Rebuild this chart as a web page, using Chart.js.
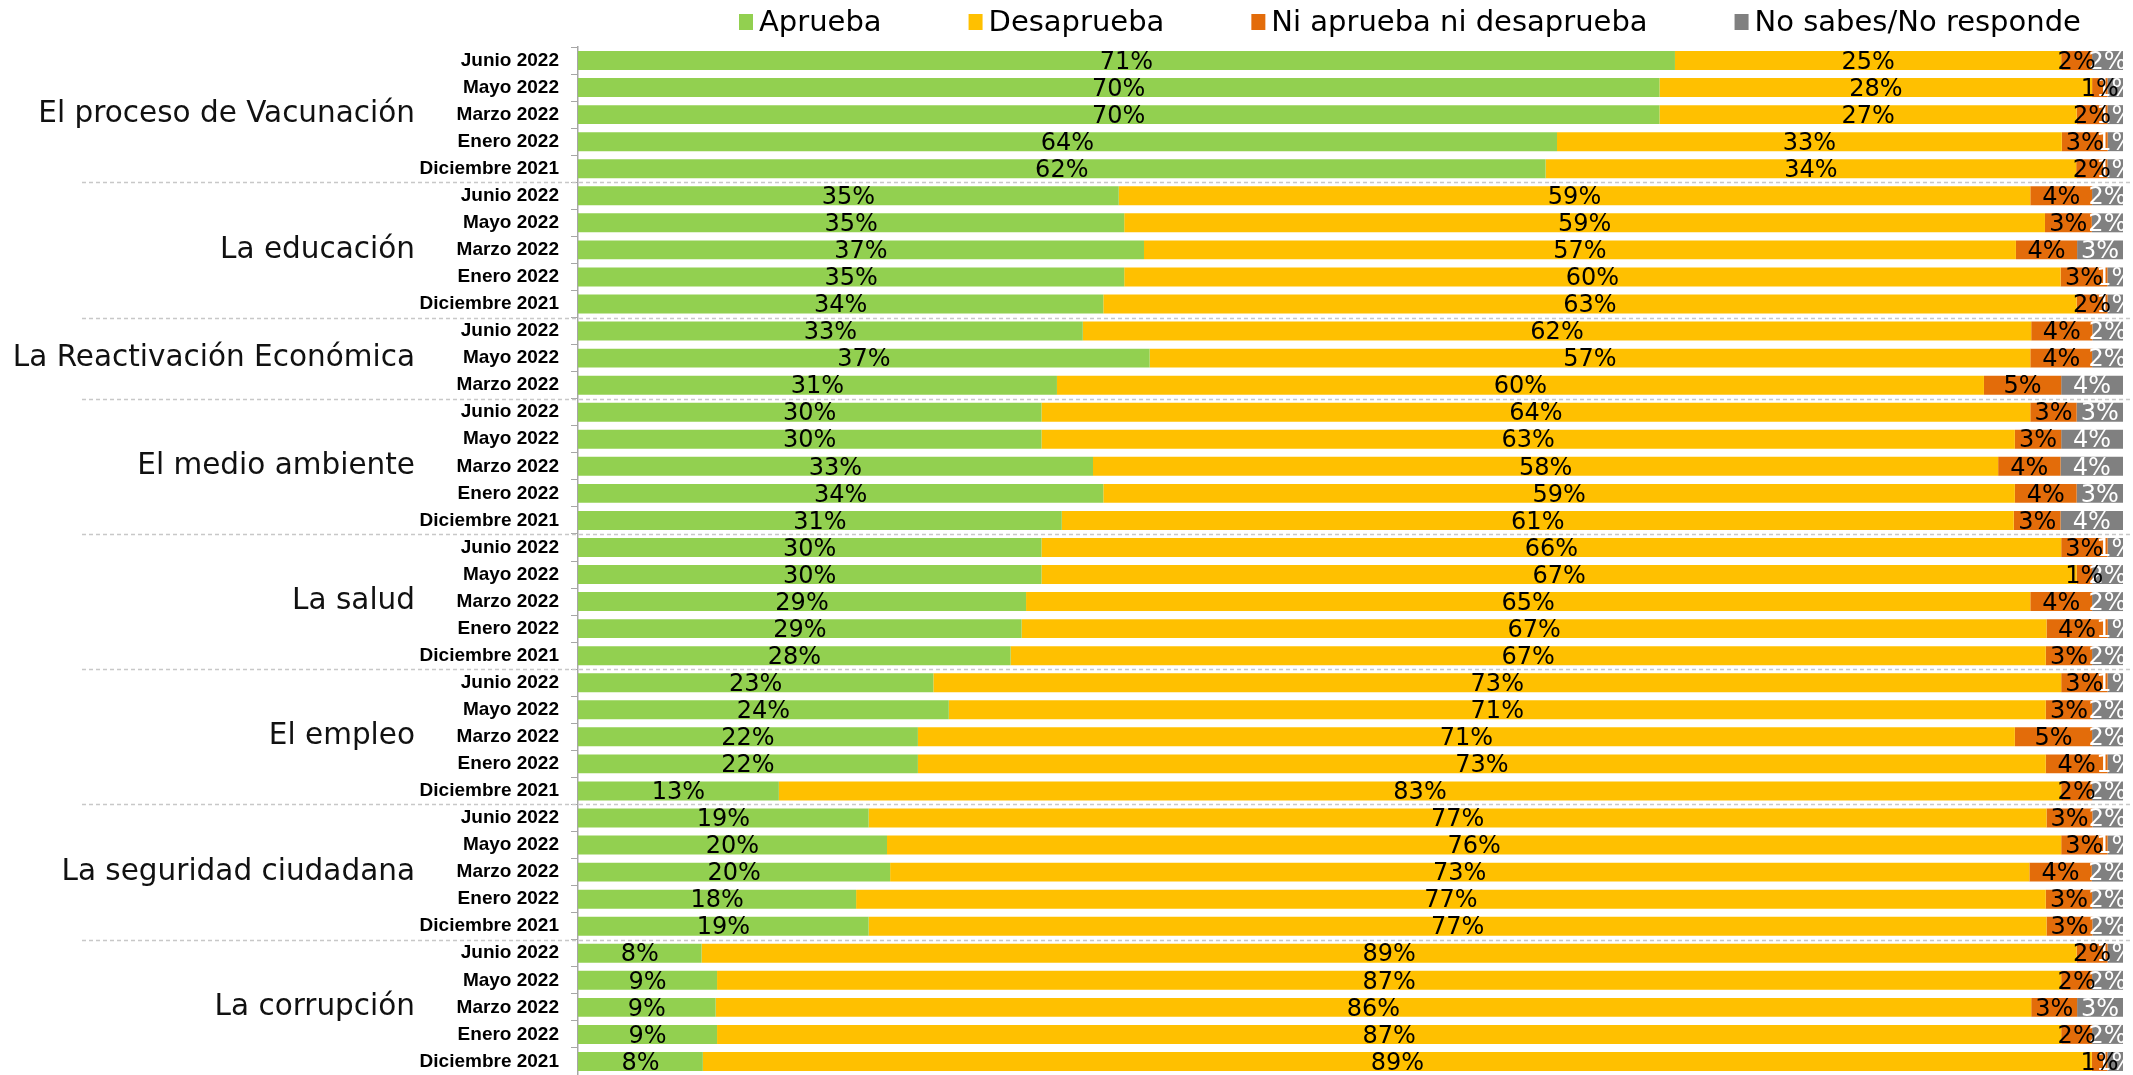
<!DOCTYPE html>
<html>
<head>
<meta charset="utf-8">
<script src="https://cdn.jsdelivr.net/npm/chart.js@4.4.0/dist/chart.umd.min.js"></script>
<style>
  html, body { margin: 0; padding: 0; background: #fff; overflow: hidden; }
  #wrap { width: 2133px; height: 1075px; position: relative; }
</style>
</head>
<body>
<div id="wrap"><canvas id="grafico"></canvas></div>
<script>
// temas y cuantas mediciones tiene cada uno
const temas = ['El proceso de Vacunación', 'La educación', 'La Reactivación Económica', 'El medio ambiente',
  'La salud', 'El empleo', 'La seguridad ciudadana', 'La corrupción'];
const filasPorTema = [5, 5, 3, 5, 5, 5, 5, 5];

const meses = [
  'Junio 2022', 'Mayo 2022', 'Marzo 2022', 'Enero 2022', 'Diciembre 2021',
  'Junio 2022', 'Mayo 2022', 'Marzo 2022', 'Enero 2022', 'Diciembre 2021',
  'Junio 2022', 'Mayo 2022', 'Marzo 2022',
  'Junio 2022', 'Mayo 2022', 'Marzo 2022', 'Enero 2022', 'Diciembre 2021',
  'Junio 2022', 'Mayo 2022', 'Marzo 2022', 'Enero 2022', 'Diciembre 2021',
  'Junio 2022', 'Mayo 2022', 'Marzo 2022', 'Enero 2022', 'Diciembre 2021',
  'Junio 2022', 'Mayo 2022', 'Marzo 2022', 'Enero 2022', 'Diciembre 2021',
  'Junio 2022', 'Mayo 2022', 'Marzo 2022', 'Enero 2022', 'Diciembre 2021'
];

const aprueba = [71, 70, 70, 64, 62, 35, 35, 37, 35, 34, 33, 37, 31, 30, 30, 33, 34, 31,
  30, 30, 29, 29, 28, 23, 24, 22, 22, 13, 19, 20, 20, 18, 19, 8, 9, 9, 9, 8];
const desaprueba = [25, 28, 27, 33, 34, 59, 59, 57, 60, 63, 62, 57, 60, 64, 63, 58, 59, 61,
  66, 67, 65, 67, 67, 73, 71, 71, 73, 83, 77, 76, 73, 77, 77, 89, 87, 86, 87, 89];
const niNi = [2, 1, 2, 3, 2, 4, 3, 4, 3, 2, 4, 4, 5, 3, 3, 4, 4, 3,
  3, 1, 4, 4, 3, 3, 3, 5, 4, 2, 3, 3, 4, 3, 3, 2, 2, 3, 2, 1];
const noSabe = [2, 1, 1, 1, 1, 2, 2, 3, 1, 1, 2, 2, 4, 3, 4, 4, 3, 4,
  1, 2, 2, 1, 2, 1, 2, 2, 1, 2, 2, 1, 2, 2, 2, 1, 2, 3, 2, 1];

const series = [aprueba, desaprueba, niNi, noSabe];
const nombres = ['Aprueba', 'Desaprueba', 'Ni aprueba ni desaprueba', 'No sabes/No responde'];
const colores = ['#92D050', '#FFC000', '#E36C0A', '#808080'];

// barra al 100% (como en Excel): se normaliza cada fila
const totales = meses.map((m, i) => series.reduce((s, serie) => s + serie[i], 0));
const normalizar = serie => serie.map((v, i) => v / totales[i] * 100);

// etiquetas de valor en el centro de cada tramo
const etiquetas = {
  id: 'etiquetas',
  afterDatasetsDraw(chart) {
    const ctx = chart.ctx;
    ctx.save();
    ctx.font = '24px "DejaVu Sans"';
    ctx.textAlign = 'center';
    ctx.textBaseline = 'middle';
    for (let d = series.length - 1; d >= 0; d--) {
      ctx.fillStyle = d === 3 ? '#ffffff' : '#000000';
      chart.getDatasetMeta(d).data.forEach((barra, i) => {
        ctx.fillText(series[d][i] + '%', (barra.x + barra.base) / 2, barra.y + 2);
      });
    }
    ctx.restore();
  }
};

// nombres de tema a la izquierda y lineas punteadas entre grupos
const grupos = {
  id: 'grupos',
  beforeDatasetsDraw(chart) {
    const ctx = chart.ctx;
    const y = chart.scales.y;
    ctx.save();
    ctx.strokeStyle = '#c8c8c8';
    ctx.lineWidth = 1.5;
    ctx.setLineDash([4, 3]);
    let inicio = 0;
    filasPorTema.forEach((n, g) => {
      const fin = inicio + n;
      if (g < filasPorTema.length - 1) {
        const py = Math.round((y.getPixelForValue(fin - 1) + y.getPixelForValue(fin)) / 2) + 0.5;
        ctx.beginPath();
        ctx.moveTo(82, py);
        ctx.lineTo(chart.width, py);
        ctx.stroke();
      }
      inicio = fin;
    });
    ctx.restore();
  },
  afterDraw(chart) {
    const ctx = chart.ctx;
    const y = chart.scales.y;
    ctx.save();
    ctx.font = '29.5px "DejaVu Sans"';
    ctx.fillStyle = '#111';
    ctx.textAlign = 'right';
    ctx.textBaseline = 'middle';
    let inicio = 0;
    filasPorTema.forEach((n, g) => {
      const py = (y.getPixelForValue(inicio) + y.getPixelForValue(inicio + n - 1)) / 2;
      ctx.fillText(temas[g], 415, py);
      inicio += n;
    });
    ctx.restore();
  }
};

// leyenda arriba
const leyenda = {
  id: 'leyenda',
  afterDraw(chart) {
    const ctx = chart.ctx;
    ctx.save();
    ctx.font = '29px "DejaVu Sans"';
    ctx.textBaseline = 'middle';
    let x = 739;
    const y = 22;
    chart.data.datasets.forEach(ds => {
      ctx.fillStyle = ds.backgroundColor;
      ctx.fillRect(x, y - 8, 14, 16);
      ctx.fillStyle = '#000';
      ctx.fillText(ds.label, x + 20, y + 1);
      x += 20 + ctx.measureText(ds.label).width + 87;
    });
    ctx.restore();
  }
};

new Chart(document.getElementById('grafico'), {
  type: 'bar',
  data: {
    labels: meses,
    datasets: series.map((serie, d) => ({
      label: nombres[d],
      data: normalizar(serie),
      backgroundColor: colores[d],
      borderWidth: 0,
      barPercentage: 0.7,
      categoryPercentage: 1.0
    }))
  },
  options: {
    indexAxis: 'y',
    responsive: true,
    maintainAspectRatio: false,
    animation: false,
    layout: { padding: { top: 47, right: 10, left: 0, bottom: 0 } },
    plugins: {
      legend: { display: false },
      tooltip: { enabled: false }
    },
    scales: {
      x: { stacked: true, min: 0, max: 100, display: false },
      y: {
        stacked: true,
        grid: { display: true, drawOnChartArea: false, tickLength: 7, color: '#a6a6a6', offset: true },
        border: { display: true, color: '#a6a6a6', width: 1.5 },
        ticks: {
          autoSkip: false,
          color: '#000',
          padding: 12,
          font: { family: '"Liberation Sans"', weight: 'bold', size: 19 }
        },
        afterFit(scale) {
          scale.width = 578;
          scale.paddingTop = 0;
          scale.paddingBottom = 0;
        }
      }
    }
  },
  plugins: [grupos, etiquetas, leyenda]
});
</script>
</body>
</html>
